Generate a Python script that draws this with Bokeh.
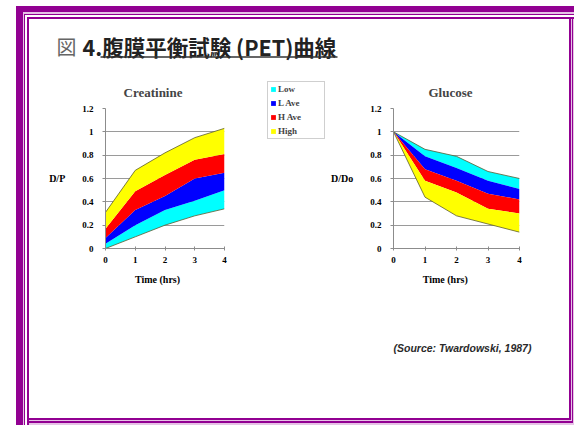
from bokeh.plotting import figure
from bokeh.models import Range1d, FixedTicker, NumeralTickFormatter, Legend, LegendItem, Spacer
from bokeh.layouts import column, row
from bokeh.core.properties import value
from bokeh.embed import file_html
from bokeh.resources import INLINE

# ---------------- data ----------------
hours = [0, 1, 2, 3, 4]
y_ticks = [0, 0.2, 0.4, 0.6, 0.8, 1.0, 1.2]
band_labels = ["Low", "L Ave", "H Ave", "High"]
band_colors = ["#00FFFF", "#0000FF", "#FF0000", "#FFFF00"]

# Creatinine D/P band boundaries, bottom -> top
cre_b0 = [0.00, 0.10, 0.20, 0.28, 0.34]
cre_b1 = [0.04, 0.20, 0.33, 0.41, 0.50]
cre_b2 = [0.09, 0.33, 0.45, 0.60, 0.65]
cre_b3 = [0.17, 0.49, 0.63, 0.76, 0.81]
cre_b4 = [0.31, 0.67, 0.82, 0.95, 1.03]

# Glucose D/Do band boundaries, bottom -> top
glu_b0 = [1.0, 0.44, 0.28, 0.21, 0.14]
glu_b1 = [1.0, 0.58, 0.48, 0.34, 0.30]
glu_b2 = [1.0, 0.68, 0.58, 0.47, 0.42]
glu_b3 = [1.0, 0.79, 0.69, 0.58, 0.51]
glu_b4 = [1.0, 0.85, 0.79, 0.66, 0.60]

page_title_mark = "図"
page_title = "4.腹膜平衡試験 (PET)曲線"
source_text = "(Source: Twardowski, 1987)"

SERIF = "Liberation Serif"
EDGE = "#5c5c30"
nb = "\u00a0"
TOP, FH, BOT = 36, 140, 52


def style_chart(p, title_offset):
    p.x_range = Range1d(0, 4)
    p.y_range = Range1d(0, 1.2)
    p.outline_line_color = None
    p.background_fill_alpha = 0
    p.border_fill_alpha = 0
    p.xgrid.grid_line_color = None
    p.ygrid.grid_line_color = "#9a9a9a"
    p.ygrid.grid_line_width = 1
    p.xaxis.ticker = FixedTicker(ticks=hours)
    p.yaxis.ticker = FixedTicker(ticks=y_ticks)
    p.yaxis.formatter = NumeralTickFormatter(format="0.[0]")
    p.axis.axis_line_color = "#8c8c8c"
    p.axis.major_tick_line_color = "#8c8c8c"
    p.axis.minor_tick_line_color = None
    p.xaxis.major_tick_in = 2
    p.xaxis.major_tick_out = 2
    p.yaxis.major_tick_in = 0
    p.yaxis.major_tick_out = 3
    p.axis.major_label_text_font = SERIF
    p.axis.major_label_text_font_style = "bold"
    p.axis.major_label_text_font_size = "9px"
    p.axis.major_label_text_color = "#000000"
    p.yaxis.major_label_standoff = 9
    p.xaxis.major_label_standoff = 6
    p.axis.axis_label_text_font = SERIF
    p.axis.axis_label_text_font_style = "bold"
    p.axis.axis_label_text_font_size = "10px"
    p.axis.axis_label_text_color = "#000000"
    p.yaxis.axis_label_orientation = "horizontal"
    p.yaxis.axis_label_standoff = 14
    p.xaxis.axis_label_standoff = 8
    p.title.text_font = SERIF
    p.title.text_font_style = "bold"
    p.title.text_font_size = "13px"
    p.title.align = "left"
    p.title.offset = title_offset
    p.title.standoff = 18


# ---------------- Creatinine ----------------
cre = figure(width=65 + 119 + 16, height=TOP + FH + BOT, output_backend="svg", toolbar_location=None,
             min_border_left=65, min_border_right=16, min_border_top=TOP, min_border_bottom=BOT,
             title="Creatinine")
style_chart(cre, 18)
cre.xaxis.axis_label = "Time (hrs)" + nb * 6
cre.yaxis.axis_label = "D/P"
cre_bounds = [cre_b0, cre_b1, cre_b2, cre_b3, cre_b4]
for i, col in enumerate(band_colors):
    cre.varea(x=hours, y1=cre_bounds[i], y2=cre_bounds[i + 1], fill_color=col)
cre.line(hours, cre_b4, line_color=EDGE, line_width=0.8)
cre.line(hours, cre_b0, line_color=EDGE, line_width=0.8)

# ---------------- Legend panel ----------------
LW, LH = 62, 75
leg = figure(width=LW, height=LH, x_range=Range1d(10, 11), y_range=Range1d(0, 1.2), min_border=0,
             x_axis_location=None, y_axis_location=None, output_backend="svg", toolbar_location=None)
leg.grid.visible = False
leg.outline_line_color = None
leg.background_fill_alpha = 0
leg.border_fill_alpha = 0
leg_rends = []
for i, col in enumerate(band_colors):
    leg_rends.append(leg.varea(x=hours, y1=cre_bounds[i], y2=cre_bounds[i + 1], fill_color=col))
legend = Legend(items=[LegendItem(label=l, renderers=[r]) for l, r in zip(band_labels, leg_rends)],
                location="top_left")
legend.border_line_color = "#a0a0a0"
legend.border_line_width = 1
legend.background_fill_color = "white"
legend.background_fill_alpha = 1
legend.label_text_font = SERIF
legend.label_text_font_style = "bold"
legend.label_text_font_size = "9px"
legend.glyph_width = 6
legend.glyph_height = 6
legend.label_standoff = 2
legend.padding = 2
legend.spacing = 4
legend.label_height = 10
legend.label_width = 44
legend.margin = 1
leg.add_layout(legend)
leg_col = column(Spacer(width=LW, height=8), leg, Spacer(width=LW, height=TOP + FH + BOT - 8 - LH))

# ---------------- Glucose ----------------
glu = figure(width=65 + 126 + 21, height=TOP + FH + BOT, output_backend="svg", toolbar_location=None,
             min_border_left=65, min_border_right=21, min_border_top=TOP, min_border_bottom=BOT,
             title="Glucose")
style_chart(glu, 35)
glu.xaxis.axis_label = "Time (hrs)" + nb * 9
glu.yaxis.axis_label = "D/Do"
glu_bounds = [glu_b0, glu_b1, glu_b2, glu_b3, glu_b4]
# glucose: Low transport band is on top
for i, col in enumerate(band_colors):
    glu.varea(x=hours, y1=glu_bounds[3 - i], y2=glu_bounds[4 - i], fill_color=col)
glu.line(hours, glu_b4, line_color=EDGE, line_width=0.8)
glu.line(hours, glu_b0, line_color=EDGE, line_width=0.8)


def blank(w, h):
    p = figure(width=w, height=h, x_range=Range1d(0, w), y_range=Range1d(h, 0), min_border=0,
               x_axis_location=None, y_axis_location=None, output_backend="svg", toolbar_location=None)
    p.grid.visible = False
    p.outline_line_color = None
    p.background_fill_alpha = 0
    p.border_fill_alpha = 0
    return p


# ---------------- page title ----------------
tfig = blank(558, 66)
tfig.text(x=[40], y=[40], text=[page_title_mark], text_font=value("Noto Sans CJK JP"),
          text_font_size="20px", text_color="#666666", text_baseline="middle", text_align="left")
tfig.text(x=[66], y=[40], text=[page_title], text_font=value("Noto Sans CJK JP"),
          text_font_size="21.5px", text_font_style="bold", text_color="#222222",
          text_baseline="middle", text_align="left")
tfig.segment(x0=[84], y0=[50.5], x1=[321], y1=[50.5], line_color="#333333", line_width=1.3)

# ---------------- source ----------------
sfig = blank(558, 125)
sfig.text(x=[377], y=[47], text=[source_text], text_font=value("Liberation Sans"),
          text_font_size="10.5px", text_font_style="bold italic", text_color="#2a2a2a",
          text_baseline="middle", text_align="left")

P = "#920092"
L = "#e6c3e6"
frame_css = ", ".join([
    f"inset 7px 6px 0 0 {P}",
    f"inset 8px 8px 0 0 {L}",
    f"inset 9px 9px 0 0 {P}",
    f"inset 11px 11px 0 0 #ffffff",
    f"inset 13px 13px 0 0 {P}",
    f"inset -1px -2px 0 0 {L}",
    f"inset -2px -4px 0 0 {P}",
    f"inset -3px -5px 0 0 {L}",
    f"inset -5px -7px 0 0 {P}",
])

charts = row(Spacer(width=24, height=TOP + FH + BOT), cre, Spacer(width=26, height=10), leg_col, glu)
framed = column(tfig, charts, sfig, styles={"background-color": "white", "box-shadow": frame_css})
root = column(Spacer(width=574, height=6), row(Spacer(width=16, height=419), framed))

open("out.html", "w").write(file_html(root, INLINE))
